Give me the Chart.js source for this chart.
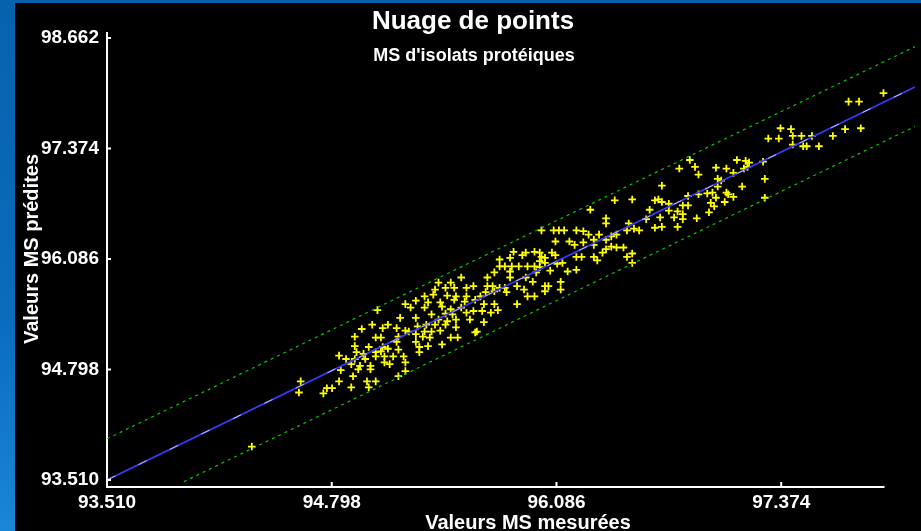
<!DOCTYPE html>
<html>
<head>
<meta charset="utf-8">
<title>Nuage de points</title>
<script src="https://cdn.jsdelivr.net/npm/chart.js@4.4.1/dist/chart.umd.min.js"></script>
<style>
  html, body {
    margin: 0;
    padding: 0;
    width: 921px;
    height: 531px;
    overflow: hidden;
    background: linear-gradient(180deg, #0762ae 0%, #0a6cbc 60%, #1a86d6 100%);
  }
  #wrap {
    position: absolute;
    left: 15px;
    top: 3px;
    width: 906px;
    height: 528px;
    background: #000;
  }
</style>
</head>
<body>
<div id="wrap"><canvas id="chart" width="906" height="528"></canvas></div>
<script>
// Valeurs mesurées (x) et prédites (y)
const measured = [
  95.06,95.22,95.19,95.03,95.12,95.09,94.97,95.17,95.22,95.24,
  94.93,95.05,95.08,95.18,95.17,94.93,95.01,95.09,95.12,95.18,
  94.94,94.98,95.05,95.08,94.84,94.88,94.93,94.99,95.05,95.10,
  95.15,95.21,94.91,94.96,95.02,95.10,95.13,95.22,94.85,94.95,
  95.02,95.22,94.92,95.18,94.62,94.84,95.00,95.05,94.77,94.80,
  94.91,95.01,94.61,94.75,94.34,
  95.84,95.89,95.91,95.96,95.76,95.82,95.76,95.79,95.83,95.87,
  95.92,95.96,95.73,95.82,95.69,95.54,95.82,95.91,95.95,95.48,
  95.41,95.45,95.50,95.57,95.61,95.69,95.72,95.76,95.79,95.86,
  95.90,95.39,95.68,95.73,95.80,95.33,95.38,95.46,95.51,95.57,
  95.65,95.92,95.96,95.28,95.35,95.42,95.50,95.56,95.62,95.67,
  95.73,95.86,95.25,95.33,95.43,95.48,95.54,95.61,95.66,95.71,
  95.75,95.37,95.45,95.49,95.57,95.28,95.41,95.46,95.51,95.59,
  95.67,95.29,95.34,95.39,95.45,95.51,95.62,95.63,95.33,95.37,
  95.42,95.28,95.32,95.36,95.48,95.52,95.28,95.43,95.30,95.35,
  95.30,
  96.42,96.52,96.28,96.62,96.37,96.37,96.50,96.00,96.07,96.10,
  96.13,96.20,96.24,96.49,96.53,96.56,96.60,96.27,96.33,96.40,
  96.43,96.30,96.37,96.08,96.16,96.19,96.24,96.30,96.40,96.43,
  96.47,96.37,95.99,96.06,96.35,96.52,96.00,96.02,96.08,96.20,
  96.23,96.30,96.49,96.32,95.99,96.02,96.09,96.12,96.52,95.99,
  96.05,96.15,96.20,95.97,96.11,96.02,96.04,96.11,96.02,
  96.85,97.12,97.17,97.19,96.79,96.88,97.00,97.06,97.16,97.18,
  97.10,96.90,97.01,97.03,96.69,97.01,97.15,96.84,96.90,96.95,
  96.98,97.06,97.07,97.10,97.00,96.65,96.67,96.69,97.05,96.73,
  96.97,96.81,96.84,96.99,96.73,96.78,96.96,96.81,96.76,96.68,
  96.89,96.81,96.65,96.69,96.78,
  97.96,97.76,97.82,97.37,97.43,97.74,97.83,97.30,97.36,97.44,
  97.49,97.55,97.67,97.44,97.50,97.52,97.59,97.27,97.28,97.28
];
const predicted = [
  95.49,95.56,95.40,95.32,95.32,95.28,95.27,95.28,95.25,95.24,
  95.18,95.17,95.17,95.18,95.12,95.07,95.06,95.06,95.04,95.03,
  95.00,94.98,95.00,95.01,94.96,94.92,94.92,94.92,94.95,94.95,
  94.95,94.95,94.86,94.84,94.84,94.88,94.86,94.88,94.79,94.80,
  94.80,94.78,94.72,94.72,94.66,94.66,94.66,94.66,94.58,94.58,
  94.59,94.59,94.53,94.52,93.90,
  96.17,96.13,96.16,96.17,96.08,96.10,96.00,96.00,96.00,96.00,
  96.00,96.00,95.93,95.94,95.87,95.87,95.87,95.87,95.82,95.81,
  95.81,95.75,95.75,95.75,95.77,95.77,95.77,95.75,95.75,95.77,
  95.73,95.73,95.70,95.71,95.70,95.65,95.67,95.66,95.65,95.65,
  95.65,95.65,95.65,95.60,95.58,95.58,95.61,95.59,95.61,95.56,
  95.56,95.56,95.52,95.52,95.53,95.50,95.52,95.48,95.48,95.46,
  95.49,95.44,95.45,95.44,95.46,95.40,95.38,95.36,95.38,95.38,
  95.35,95.30,95.32,95.32,95.32,95.29,95.23,95.24,95.24,95.24,
  95.25,95.21,95.18,95.17,95.17,95.17,95.12,95.09,95.06,95.07,
  95.00,
  96.77,96.78,96.66,96.66,96.56,96.50,96.50,96.42,96.42,96.42,
  96.42,96.42,96.41,96.42,96.44,96.42,96.55,96.37,96.37,96.35,
  96.37,96.31,96.31,96.29,96.29,96.25,96.28,96.25,96.23,96.22,
  96.22,96.20,96.16,96.16,96.16,96.15,96.11,96.10,96.13,96.11,
  96.11,96.11,96.11,96.07,96.06,96.04,96.03,96.04,96.04,95.99,
  95.95,95.94,95.96,95.93,95.82,95.77,95.77,95.73,95.71,
  97.24,97.24,97.23,97.21,97.14,97.16,97.15,97.14,97.14,97.16,
  97.09,97.07,97.02,97.00,96.94,96.93,96.93,96.82,96.84,96.85,
  96.86,96.86,96.84,96.81,96.80,96.77,96.78,96.75,96.75,96.73,
  96.74,96.71,96.71,96.70,96.65,96.64,96.63,96.61,96.57,96.57,
  96.56,96.55,96.45,96.46,96.46,
  98.02,97.92,97.92,97.61,97.60,97.60,97.61,97.49,97.49,97.52,
  97.52,97.52,97.52,97.42,97.40,97.40,97.40,97.22,97.02,96.80
];

// Droite d'ajustement et limites (pointillés verts)
const fitX   = [93.51, 98.14];
const fitY   = [93.51, 98.09];
const upperX = [93.51, 98.14];
const upperY = [93.99, 98.56];
const lowerX = [93.95, 98.14];
const lowerY = [93.49, 97.63];

const xTicks = [93.510, 94.798, 96.086, 97.374];
const yTicks = [93.510, 94.798, 96.086, 97.374, 98.662];
const xAxisEnd = 97.966;

const titleText    = 'Nuage de points';
const subtitleText = "MS d'isolats protéiques";
const xTitle       = 'Valeurs MS mesurées';
const yTitle       = 'Valeurs MS prédites';

const FONT = '"Liberation Sans", Arial, sans-serif';

function pairs(xs, ys) {
  return xs.map((x, i) => ({ x, y: ys[i] }));
}

// axe x raccourci, petites graduations vers l'intérieur, titres
const decor = {
  id: 'decor',
  afterDraw(chart) {
    const { ctx, chartArea: a, scales: { x, y } } = chart;
    ctx.save();
    ctx.strokeStyle = '#ffffff';
    ctx.lineWidth = 2;
    ctx.beginPath();
    ctx.moveTo(a.left - 1, a.bottom + 1);
    ctx.lineTo(x.getPixelForValue(xAxisEnd), a.bottom + 1);
    yTicks.forEach(v => {
      const py = y.getPixelForValue(v);
      ctx.moveTo(a.left, py);
      ctx.lineTo(a.left + 4, py);
    });
    xTicks.forEach(v => {
      const px = x.getPixelForValue(v);
      ctx.moveTo(px, a.bottom);
      ctx.lineTo(px, a.bottom - 4);
    });
    ctx.stroke();

    ctx.fillStyle = '#ffffff';
    ctx.textAlign = 'center';
    ctx.textBaseline = 'alphabetic';
    ctx.font = 'bold 26px ' + FONT;
    ctx.fillText(titleText, 458, 26);
    ctx.font = 'bold 18px ' + FONT;
    ctx.fillText(subtitleText, 459, 58);
    ctx.font = 'bold 20px ' + FONT;
    ctx.fillText(xTitle, 513, 526);

    ctx.translate(17, 246);
    ctx.rotate(-Math.PI / 2);
    ctx.textBaseline = 'middle';
    ctx.fillText(yTitle, 0, 0);
    ctx.restore();
  }
};

const tickFont = { family: FONT, size: 19, weight: 'bold' };

new Chart(document.getElementById('chart'), {
  type: 'scatter',
  data: {
    datasets: [
      {
        data: pairs(measured, predicted),
        pointStyle: 'cross',
        pointRadius: 3.8,
        pointHoverRadius: 3.8,
        borderColor: '#ffff00',
        borderWidth: 1.8,
        order: 3
      },
      {
        data: pairs(fitX, fitY),
        showLine: true,
        borderColor: '#3a3aff',
        borderWidth: 1.6,
        pointRadius: 0,
        order: 2
      },
      {
        data: pairs(fitX, fitY),
        showLine: true,
        borderColor: 'rgba(220,220,220,0.85)',
        borderWidth: 1,
        borderDash: [9, 26],
        pointRadius: 0,
        order: 1
      },
      {
        data: pairs(upperX, upperY),
        showLine: true,
        borderColor: '#00cc00',
        borderWidth: 1.2,
        borderDash: [3, 4],
        pointRadius: 0,
        order: 1
      },
      {
        data: pairs(lowerX, lowerY),
        showLine: true,
        borderColor: '#00cc00',
        borderWidth: 1.2,
        borderDash: [3, 4],
        pointRadius: 0,
        order: 1
      }
    ]
  },
  options: {
    responsive: false,
    animation: false,
    devicePixelRatio: 1,
    layout: { padding: { top: 30, left: 0, right: 0, bottom: 0 } },
    plugins: {
      legend: { display: false },
      tooltip: { enabled: false },
      title: { display: false }
    },
    scales: {
      x: {
        type: 'linear',
        min: 93.51,
        max: 98.143,
        afterBuildTicks: s => { s.ticks = xTicks.map(v => ({ value: v })); },
        afterFit: s => { s.height = 45; },
        grid: { display: false, drawTicks: false },
        border: { display: false },
        ticks: {
          color: '#ffffff',
          font: tickFont,
          padding: 5,
          maxRotation: 0,
          autoSkip: false,
          callback: v => v.toFixed(3)
        }
      },
      y: {
        type: 'linear',
        min: 93.44,
        max: 98.72,
        afterBuildTicks: s => { s.ticks = yTicks.map(v => ({ value: v })); },
        afterFit: s => { s.width = 92; },
        grid: { display: false, drawTicks: false },
        border: { display: true, color: '#ffffff', width: 2 },
        ticks: {
          color: '#ffffff',
          font: tickFont,
          padding: 8,
          autoSkip: false,
          callback: v => v.toFixed(3)
        }
      }
    }
  },
  plugins: [decor]
});
</script>
</body>
</html>
